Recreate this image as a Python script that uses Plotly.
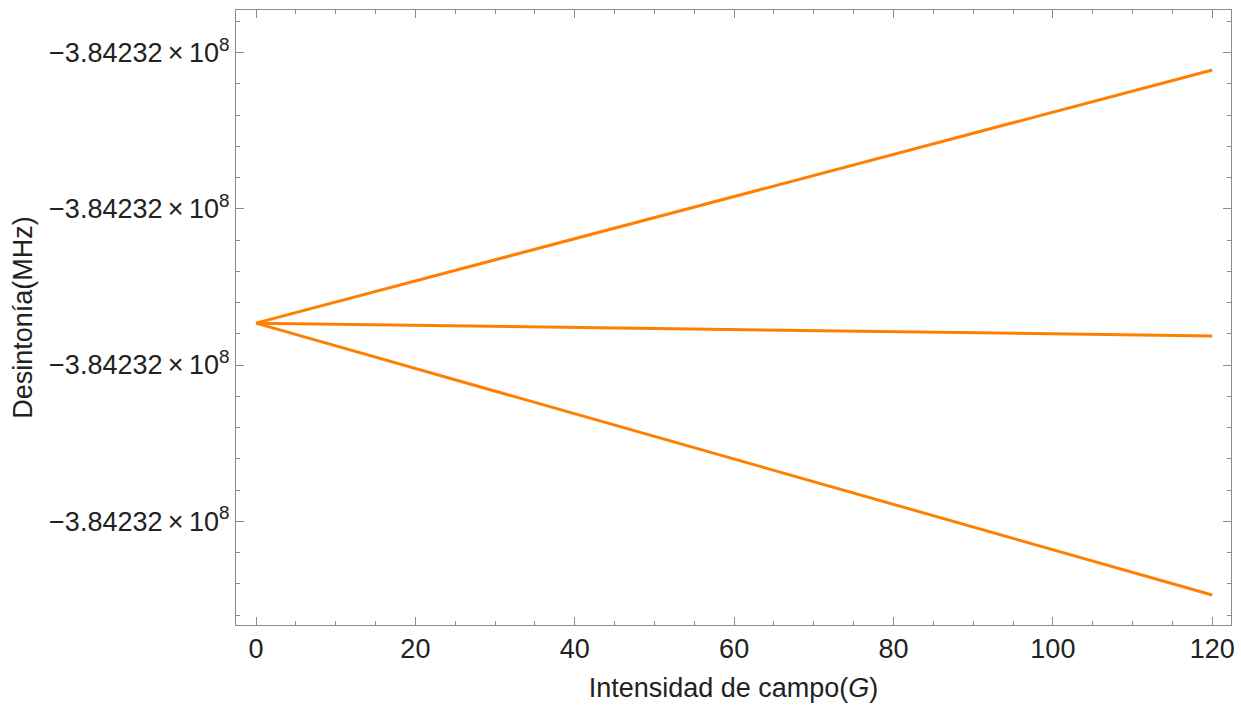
import plotly.graph_objects as go

# Data (field in G, detuning in MHz)
field = [0, 120]
base = -384232000
upper = [base - 86.6, base - 5.6]
middle = [base - 86.6, base - 90.7]
lower = [base - 86.6, base - 173.6]

ytick_vals = [base - 150, base - 100, base - 50, base]
ytick_text = ["\u22123.84232\u2009\u00d7\u200910<sup>8</sup>"] * 4
xtick_vals = [0, 20, 40, 60, 80, 100, 120]

orange = "rgb(255,128,0)"
fig = go.Figure()
for ys in (upper, middle, lower):
    fig.add_trace(go.Scatter(x=field, y=ys, mode="lines",
                             line=dict(color=orange, width=3), showlegend=False,
                             hoverinfo="skip"))

FONT = "Liberation Sans, Arial"
axis_common = dict(showgrid=False, zeroline=False, showline=True, linecolor="#8c8c8c",
                   linewidth=1, mirror="allticks", ticks="inside", tickcolor="#8c8c8c",
                   ticklen=8, tickwidth=1, automargin=False,
                   tickfont=dict(family=FONT, size=27, color="#222"))

fig.update_layout(
    width=1241, height=709,
    margin=dict(l=236, r=10, t=10, b=84),
    plot_bgcolor="white", paper_bgcolor="white",
    xaxis=dict(range=[-2.51, 122.35], tickvals=xtick_vals,
               minor=dict(ticks="inside", dtick=5, tick0=0, ticklen=4, tickcolor="#8c8c8c"),
               title=dict(text="Intensidad de campo(<i>G</i>)", standoff=14,
                          font=dict(family=FONT, size=27, color="#222")),
               **axis_common),
    yaxis=dict(range=[base - 183.2, base + 13.6], tickvals=ytick_vals, ticktext=ytick_text,
               minor=dict(ticks="inside", dtick=10, tick0=base, ticklen=4, tickcolor="#8c8c8c"),
               title=dict(text="Desintonía(MHz)", standoff=8,
                          font=dict(family=FONT, size=27, color="#222")),
               **axis_common),
)

fig.write_html("out.html")
